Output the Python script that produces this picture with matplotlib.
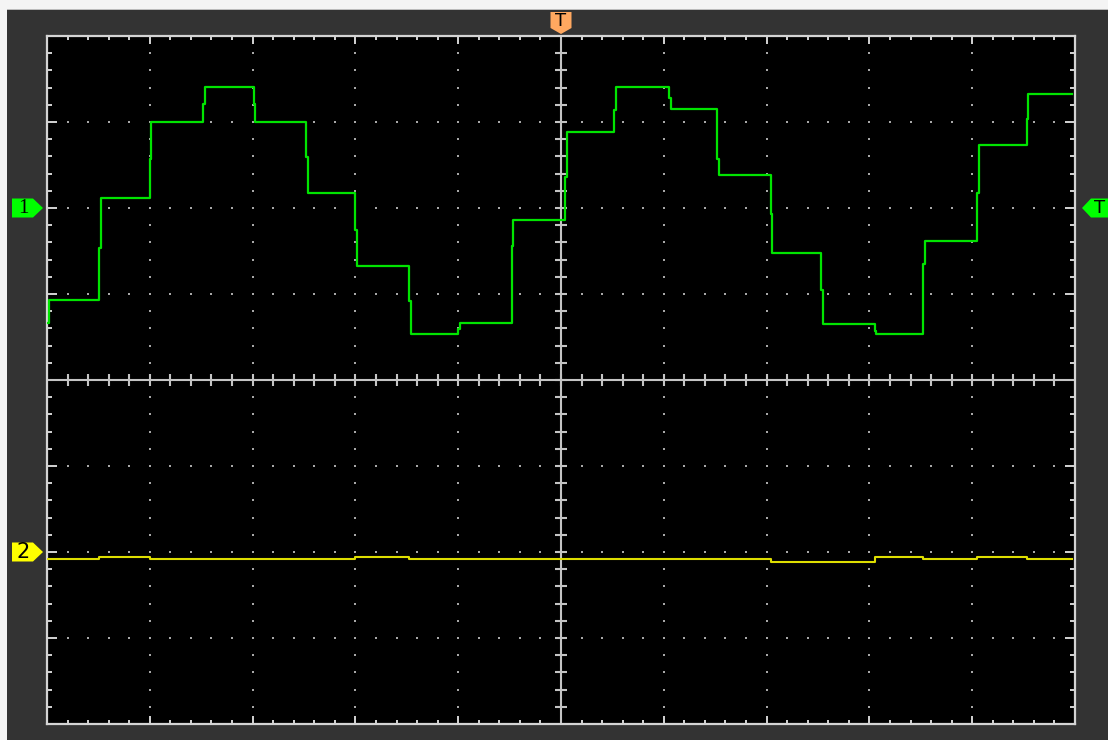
import matplotlib
matplotlib.use('Agg')
import matplotlib.pyplot as plt
import numpy as np
from matplotlib.patches import Polygon, Rectangle
from matplotlib.transforms import IdentityTransform

# ---------------- data (divisions) ----------------
# step transition times (horizontal divisions, 0..10)
step_times = [0.51, 1.00, 1.52, 2.01, 2.52, 3.00, 3.52, 4.00, 4.52, 5.04,
              5.52, 6.05, 6.52, 7.04, 7.53, 8.05, 8.52, 9.05, 9.53]
end_time = 9.97
# CH1 levels (div, relative to CH1 ground) before first step and after each step
ch1_start = -1.34
ch1_levels = [-1.07, 0.12, 1.00, 1.41, 1.00, 0.18, -0.68, -1.47, -1.34, -0.14,
              0.88, 1.41, 1.15, 0.38, -0.52, -1.35, -1.47, -0.38, 0.73, 1.33]
# intermediate level seen inside each transition
ch1_mid = [-0.47, 0.57, 1.21, 1.21, 0.59, -0.26, -1.08, -1.41, -0.44, 0.36,
           1.14, 1.28, 0.57, -0.07, -0.95, -1.43, -0.65, 0.18, 1.04]
# CH2 levels (div, relative to CH2 ground) for each segment
ch2_levels = [-0.078, -0.058, -0.078, -0.078, -0.078, -0.078, -0.058, -0.078,
              -0.078, -0.078, -0.078, -0.078, -0.078, -0.078, -0.12, -0.12,
              -0.058, -0.078, -0.062, -0.078]
ch1_offset = 2.0
ch2_offset = -2.0
trig_time = 5.0
trig_level = 2.0

# ---------------- figure ----------------
W, H = 1108, 740
fig = plt.figure(figsize=(W / 100, H / 100), dpi=100, facecolor='#333333')
ax = fig.add_axes([47 / W, (H - 724) / H, 1028 / W, 688 / H])
ax.set_facecolor('black')
ax.set_xlim(0, 10)
ax.set_ylim(-4, 4)

edge = '#d4d4d4'
for s in ax.spines.values():
    s.set_color(edge)
    s.set_linewidth(1.6)

ax.set_xticks(np.arange(0, 11, 1))
ax.set_xticks(np.arange(0, 10.01, 0.2), minor=True)
ax.set_yticks(np.arange(-4, 5, 1))
ax.set_yticks(np.arange(-4, 4.01, 0.2), minor=True)
ax.tick_params(which='both', direction='in', top=True, right=True,
               labelbottom=False, labelleft=False, color=edge, width=1.4)
ax.xaxis.set_tick_params(which='major', length=6.0)
ax.xaxis.set_tick_params(which='minor', length=3.0)
ax.yaxis.set_tick_params(which='major', length=7.0)
ax.yaxis.set_tick_params(which='minor', length=3.8)

# dotted grid
dot_c = '#a8a8a8'
yd = np.round(np.arange(-3.8, 3.81, 0.2), 2)
for gx in [1, 2, 3, 4, 6, 7, 8, 9]:
    ax.plot(np.full_like(yd, gx), yd, ls='none', marker='s', ms=1.5,
            mew=0, color=dot_c, zorder=1)
xd = np.round(np.arange(0.2, 9.81, 0.2), 2)
for gy in [-3, -2, -1, 1, 2, 3]:
    ax.plot(xd, np.full_like(xd, gy), ls='none', marker='s', ms=1.5,
            mew=0, color=dot_c, zorder=1)

# center cross with ticks
cc = '#c4c4c4'
ax.axvline(5, color=cc, lw=1.5, zorder=2)
ax.axhline(0, color=cc, lw=1.5, zorder=2)
ax.plot(xd, np.zeros_like(xd), ls='none', marker='|', ms=9.0, mew=1.5,
        color=cc, zorder=2)
ax.plot(np.full_like(yd, 5), yd, ls='none', marker='_', ms=9.0, mew=1.5,
        color=cc, zorder=2)

# CH1 trace
t1 = [0.0, 0.015]
v1 = [ch1_start, ch1_levels[0]]
for i, tt in enumerate(step_times):
    t1 += [tt, tt + 0.016]
    v1 += [ch1_mid[i], ch1_levels[i + 1]]
t1.append(end_time)
v1.append(ch1_levels[-1])
ax.plot(t1, np.array(v1) + ch1_offset, drawstyle='steps-post',
        color='#00e400', lw=1.6, zorder=5)

# CH2 trace
t2 = [0.0] + step_times + [end_time]
v2 = ch2_levels + [ch2_levels[-1]]
ax.plot(t2, np.array(v2) + ch2_offset, drawstyle='steps-post',
        color='#dede00', lw=1.5, zorder=5)

# ---------------- frame decorations ----------------
idt = IdentityTransform()
fig.add_artist(Rectangle((0, H - 10), W, 10, transform=idt,
                         facecolor='#f4f4f4', edgecolor='none'))
fig.add_artist(Rectangle((0, H - 10), W, 1.5, transform=idt,
                         facecolor='#bcbcbc', edgecolor='none'))
fig.add_artist(Rectangle((0, 0), 7, H, transform=idt,
                         facecolor='#f4f4f4', edgecolor='none'))


def disp(x, y):
    return ax.transData.transform((x, y))


def right_marker(x0, yc, color, label, family):
    w, h, tip = 31, 19, 10
    pts = [(x0, yc - h / 2), (x0 + w - tip, yc - h / 2), (x0 + w, yc),
           (x0 + w - tip, yc + h / 2), (x0, yc + h / 2)]
    fig.add_artist(Polygon(pts, closed=True, transform=idt,
                           facecolor=color, edgecolor='none'))
    fig.text((x0 + 11) / W, yc / H, label, ha='center', va='center',
             fontsize=15, color='black', family=family)


y1 = disp(0, ch1_offset)[1]
y2 = disp(0, ch2_offset)[1]
right_marker(12, y1, '#00ff00', '1', 'Liberation Serif')
right_marker(12, y2, '#ffff00', '2', 'DejaVu Sans')

# trigger position marker (top)
xt = disp(trig_time, 0)[0]
top, bot, rect_b = H - 12, H - 34, H - 28
pts = [(xt - 10.5, top), (xt + 10.5, top), (xt + 10.5, rect_b), (xt, bot),
       (xt - 10.5, rect_b)]
fig.add_artist(Polygon(pts, closed=True, transform=idt,
                       facecolor='#ffa860', edgecolor='none'))
fig.text(xt / W, (H - 20.5) / H, 'T', ha='center', va='center',
         fontsize=13, color='black', family='DejaVu Sans')

# trigger level marker (right)
yt = disp(0, trig_level)[1]
pts = [(1082, yt), (1091, yt + 9.5), (W + 5, yt + 9.5), (W + 5, yt - 9.5),
       (1091, yt - 9.5)]
fig.add_artist(Polygon(pts, closed=True, transform=idt,
                       facecolor='#00ff00', edgecolor='none'))
fig.text(1100 / W, yt / H, 'T', ha='center', va='center',
         fontsize=13, color='black', family='DejaVu Sans')

fig.savefig('out.png', dpi=100, facecolor=fig.get_facecolor())
